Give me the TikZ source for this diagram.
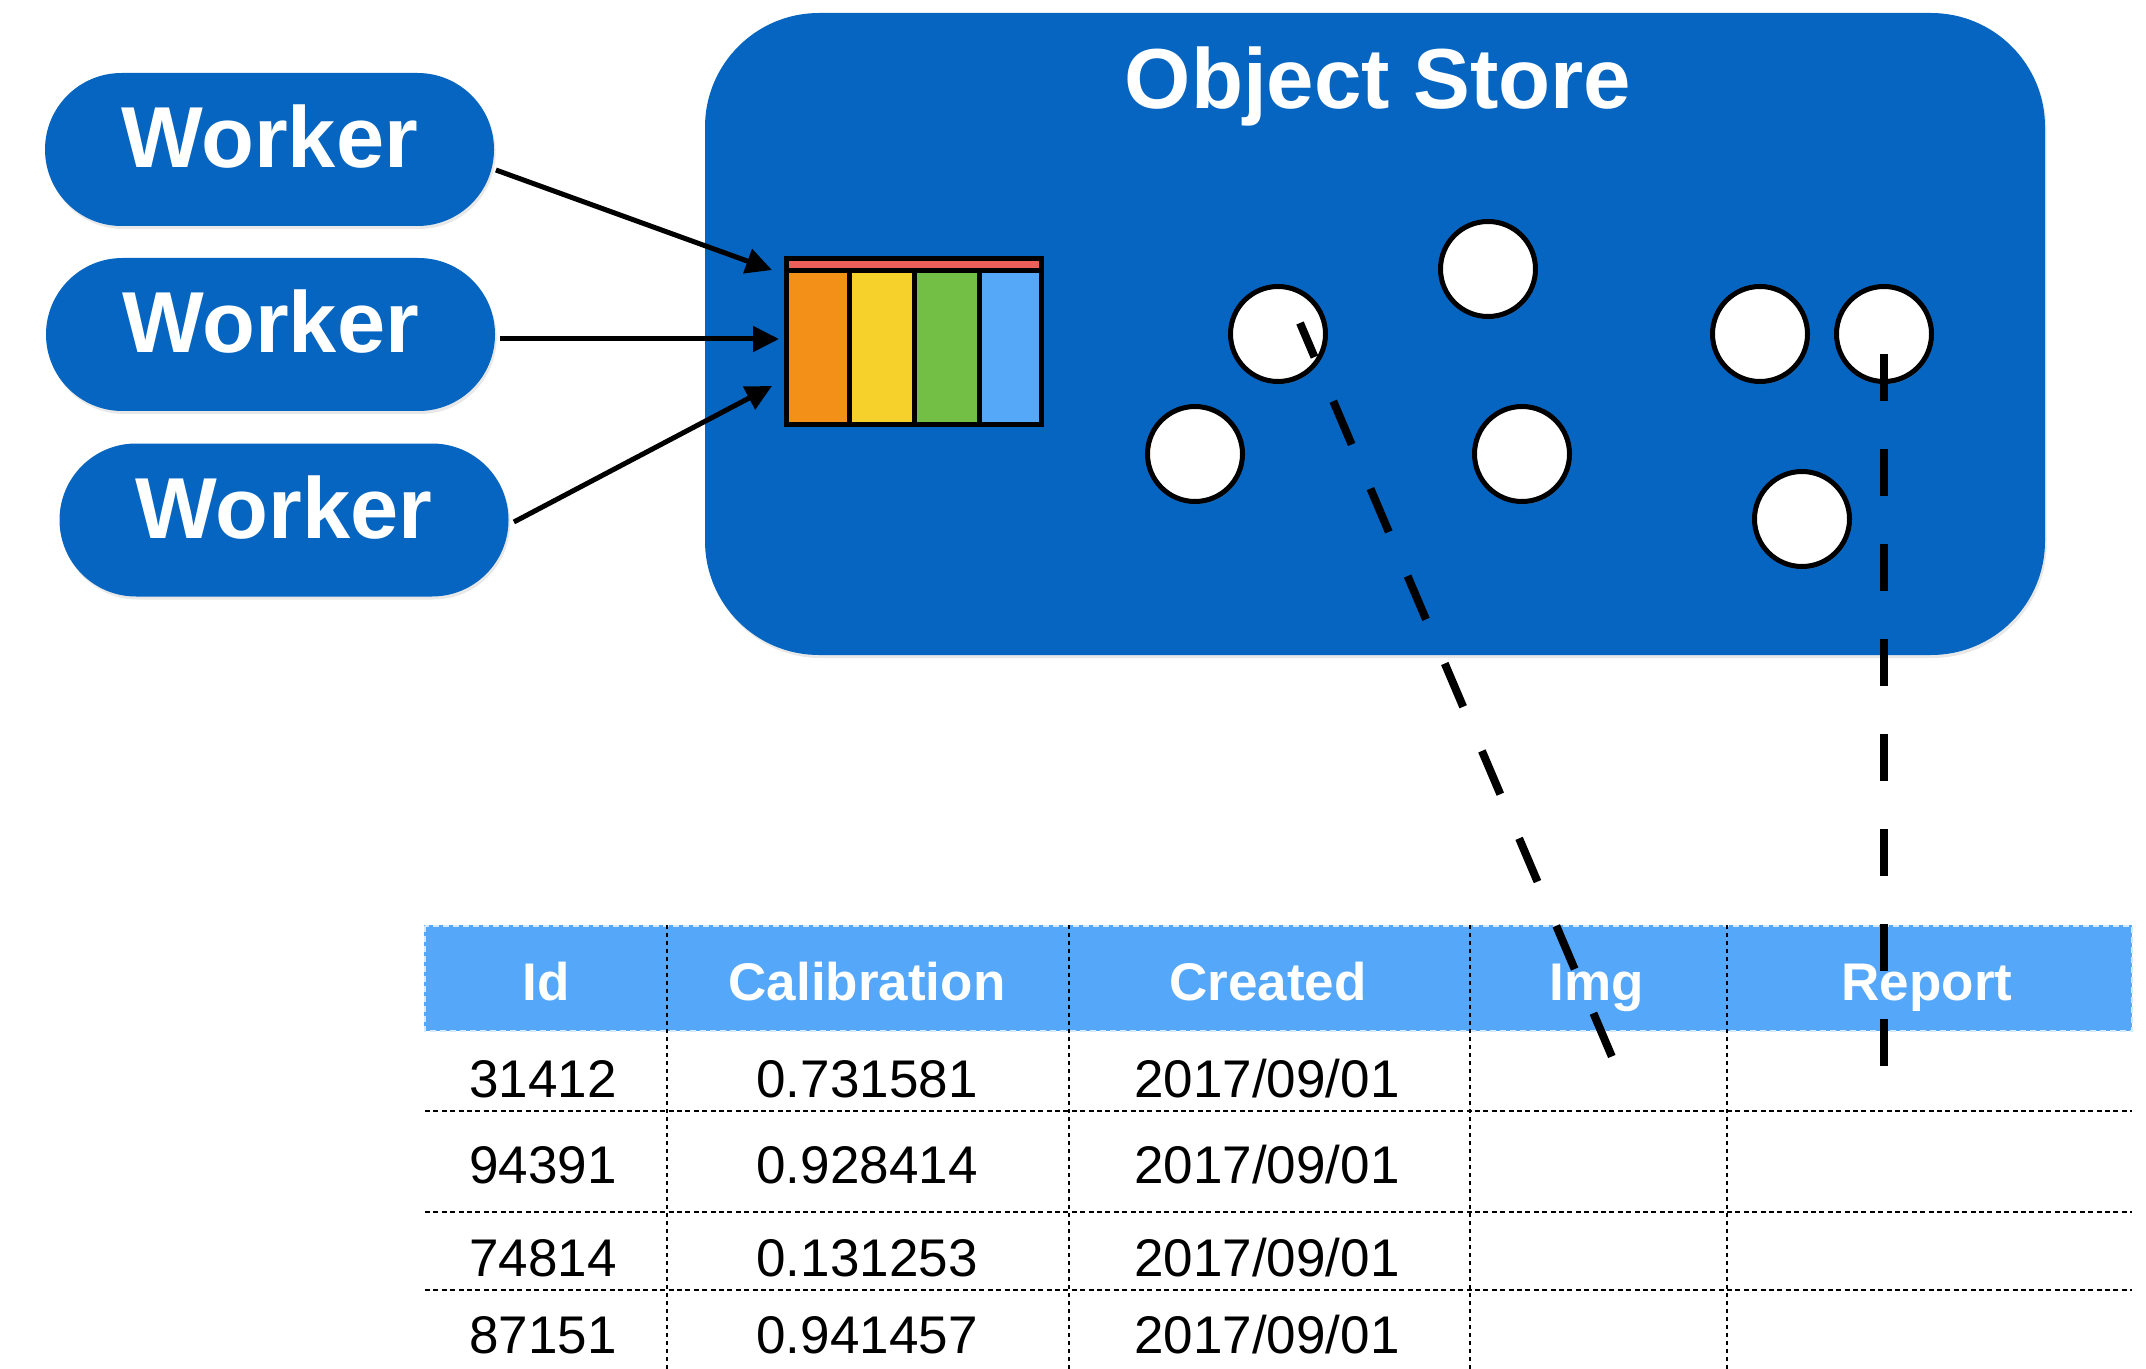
\documentclass[tikz,border=0pt]{standalone}
\usepackage{fontspec}
\setmainfont{Liberation Sans}
\usetikzlibrary{arrows.meta,shapes.misc,shadows}

\definecolor{storeblue}{HTML}{0565C0}
\definecolor{hdrblue}{HTML}{54A7F9}
\definecolor{qorange}{HTML}{F29018}
\definecolor{qyellow}{HTML}{F6D12B}
\definecolor{qgreen}{HTML}{73BE44}
\definecolor{qblue}{HTML}{55A7F8}
\definecolor{qred}{HTML}{EC5E5A}

\begin{document}
\begin{tikzpicture}[x=0.5pt,y=-0.5pt,
  softshadow/.style={drop shadow={shadow xshift=0.8pt,shadow yshift=-1.5pt,opacity=0.18}},
  store/.style={fill=storeblue,rounded corners=57pt,minimum width=670pt,
    minimum height=321pt,inner sep=0pt,softshadow},
  title/.style={text=white,font=\bfseries\fontsize{42.6pt}{44pt}\selectfont,anchor=base},
  worker/.style={rounded rectangle,fill=storeblue,minimum width=224.5pt,
    minimum height=76.5pt,inner sep=0pt,text=white,
    font=\bfseries\fontsize{43.3pt}{44pt}\selectfont,
    text height=18.5pt,text depth=0pt,softshadow},
  ball/.style={circle,draw=black,fill=white,line width=2.5pt,
    minimum size=47.5pt,inner sep=0pt,softshadow},
  qframe/.style={draw=black,line width=2.5pt,minimum width=127.5pt,
    minimum height=83pt,inner sep=0pt},
  feed/.style={line width=2.5pt,-{Triangle[length=13pt,width=12.5pt]}},
  link/.style={line width=4pt,dash pattern=on 23.5pt off 24pt},
  hdr/.style={text=white,font=\bfseries\fontsize{26.5pt}{27pt}\selectfont,
    anchor=base,inner sep=0pt},
  cell/.style={text=black,font=\fontsize{26.5pt}{27pt}\selectfont,
    anchor=base,inner sep=0pt},
  colrule/.style={line width=1pt,dash pattern=on 2pt off 2pt},
  rowrule/.style={line width=1.35pt,dash pattern=on 2.5pt off 1.7pt},
]
\useasboundingbox (0,0) rectangle (2146,1369);

% object store container
\node[store] (store) at (1375,334) {};
\node[title] (storetitle) at (1378,109) {Object Store};

% columnar batch being written into the store
\fill[qorange] (786,270) rectangle (849,424);
\fill[qyellow] (849,270) rectangle (914,424);
\fill[qgreen]  (914,270) rectangle (979,424);
\fill[qblue]   (979,270) rectangle (1042,424);
\node[qframe] (queue) at (914,341.5) {};
\draw[line width=2.5pt] (849,270) -- (849,424);
\draw[line width=2.5pt] (914,270) -- (914,424);
\draw[line width=2.5pt] (979,270) -- (979,424);
\draw[line width=2.5pt,fill=qred] (786.5,258.5) rectangle (1041.5,270.5);

% stored objects
\node[ball] (c1) at (1278,334) {};
\node[ball] (c2) at (1195,454) {};
\node[ball] (c3) at (1488,269) {};
\node[ball] (c4) at (1522,454) {};
\node[ball] (c5) at (1760,334) {};
\node[ball] (c6) at (1884,334) {};
\node[ball] (c7) at (1802,519) {};

% workers
\node[worker] (w1) at (269.5,149.5) {Worker};
\node[worker] (w2) at (270.5,334.5) {Worker};
\node[worker] (w3) at (284,520) {Worker};

\draw[feed] ([shift={(1.5,20.5)}]w1.east) -- ([shift={(-12,14)}]queue.north west);
\draw[feed] ([shift={(5,4.5)}]w2.east) -- ([shift={(-5,-2.5)}]queue.west);
\draw[feed] ([shift={(5,2)}]w3.east) -- ([shift={(-12,44.5)}]queue.west);

% table
\fill[hdrblue] (424,925) rectangle (2132,1031);
\draw[white!75!hdrblue,line width=1pt,dash pattern=on 3pt off 2pt]
  (424.5,925.5) rectangle (2131.5,1030.5);

\foreach \x in {667,1069,1470,1727}
  \draw[colrule] (\x,925) -- (\x,1369);
\foreach \y in {1111,1212,1290}
  \draw[rowrule] (425,\y) -- (2132,\y);

\node[hdr] (hId)      at (546,1000)  {Id};
\node[hdr] (hCal)     at (867,1000)  {Calibration};
\node[hdr] (hCreated) at (1268,1000) {Created};
\node[hdr] (hImg)     at (1597,1000) {Img};
\node[hdr] (hReport)  at (1927,1000) {Report};

\node[cell] (r1id)  at (543,1097) {31412};
\node[cell] (r1cal) at (867,1097) {0.731581};
\node[cell] (r1dt)  at (1267,1097) {2017/09/01};
\node[cell] (r2id)  at (543,1183) {94391};
\node[cell] (r2cal) at (867,1183) {0.928414};
\node[cell] (r2dt)  at (1267,1183) {2017/09/01};
\node[cell] (r3id)  at (543,1276) {74814};
\node[cell] (r3cal) at (867,1276) {0.131253};
\node[cell] (r3dt)  at (1267,1276) {2017/09/01};
\node[cell] (r4id)  at (543,1353) {87151};
\node[cell] (r4cal) at (867,1353) {0.941457};
\node[cell] (r4dt)  at (1267,1353) {2017/09/01};

% references from table cells to stored objects
\coordinate (imgcell) at (1615,1064);
\coordinate (reportcell) at (1884,1072);
\draw[link,dash phase=5pt] ([shift={(22,-11)}]c1.center) -- (imgcell);
\draw[link] ([shift={(0,20)}]c6.center) -- (reportcell);
\end{tikzpicture}
\end{document}
